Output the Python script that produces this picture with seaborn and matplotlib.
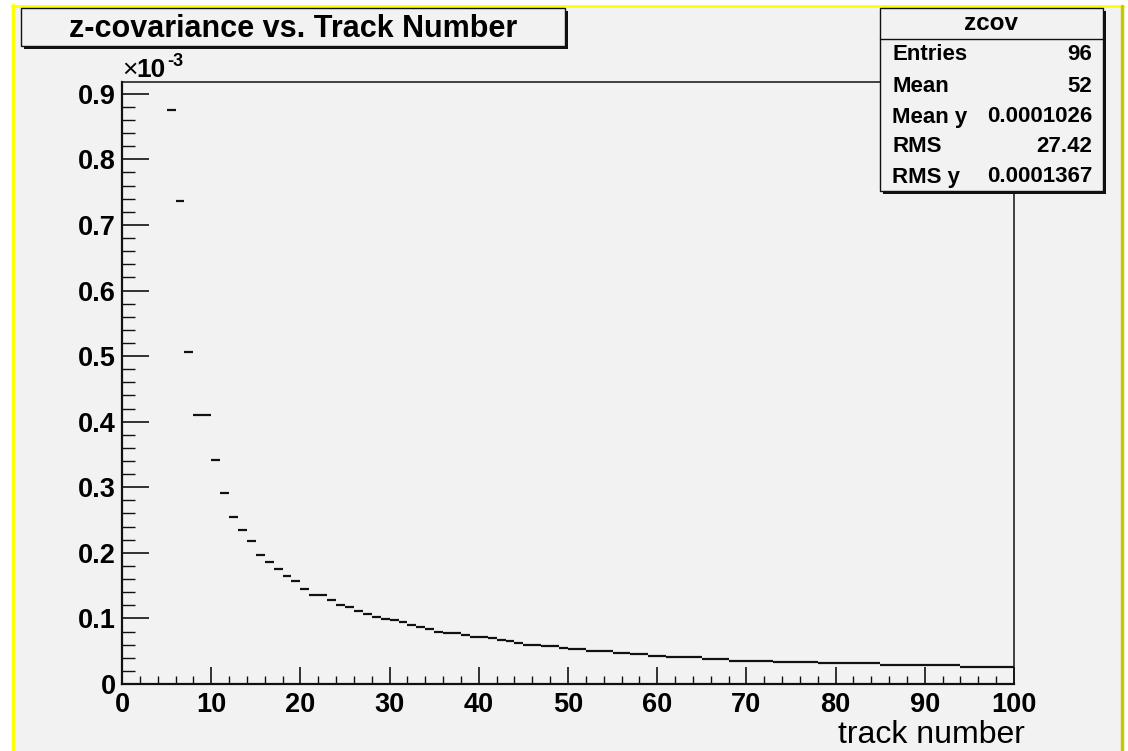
import seaborn as sns
import matplotlib.pyplot as plt
import pandas as pd
from matplotlib.patches import Rectangle
from matplotlib.lines import Line2D
from matplotlib.ticker import MultipleLocator, FuncFormatter

# bin low edges (track number), width 1
track_bin = list(range(5, 100))
# z-covariance per bin, in units of 1e-3
zcov_e3 = [
    0.875, 0.737, 0.507, 0.410, 0.410, 0.341, 0.291, 0.255, 0.235, 0.2175,
    0.196, 0.186, 0.176, 0.164, 0.1575, 0.1455, 0.135, 0.135, 0.128, 0.1205,
    0.118, 0.111, 0.106, 0.1017, 0.0996, 0.097, 0.0945, 0.0894, 0.0869, 0.0843,
    0.0798, 0.0777, 0.0777, 0.0747, 0.0722, 0.0722, 0.0696, 0.0671, 0.065, 0.0625,
    0.060, 0.060, 0.0574, 0.0574, 0.0549, 0.053, 0.053, 0.0503, 0.0503, 0.0503,
    0.0478, 0.0478, 0.0452, 0.0452, 0.0427, 0.0427, 0.0406, 0.0406, 0.0406, 0.0406,
    0.0378, 0.0378, 0.0378, 0.0356, 0.0356, 0.0356, 0.0356, 0.0356, 0.0335, 0.0335,
    0.0335, 0.0335, 0.0335, 0.0315, 0.0315, 0.0315, 0.0315, 0.0315, 0.0315, 0.0315,
    0.029, 0.029, 0.029, 0.029, 0.029, 0.029, 0.029, 0.029, 0.029, 0.0264,
    0.0264, 0.0264, 0.0264, 0.0264, 0.0264,
]

stat_names = ['Entries', 'Mean', 'Mean y', 'RMS', 'RMS y']
stat_values = ['96', '52', '0.0001026', '27.42', '0.0001367']

df = pd.DataFrame({'lo': track_bin, 'zcov': zcov_e3})
df['hi'] = df['lo'] + 1

sns.set_theme(style='ticks')
plt.rcParams['font.family'] = ['Liberation Sans', 'DejaVu Sans']
plt.rcParams['text.color'] = '#000000'
plt.rcParams['xtick.color'] = '#000000'
plt.rcParams['ytick.color'] = '#000000'
plt.rcParams['xtick.labelcolor'] = '#000000'
plt.rcParams['ytick.labelcolor'] = '#000000'

W, H = 1128, 751
BG = '#f2f2f2'
fig = plt.figure(figsize=(W / 100, H / 100), dpi=100)
fig.patch.set_facecolor('white')


def fx(x):
    return x / W


def fy(y):
    return 1 - y / H


# canvas background and yellow frame
fig.add_artist(Rectangle((fx(13), 0), fx(1122) - fx(13), fy(6), transform=fig.transFigure,
                         facecolor=BG, edgecolor='none', zorder=-10))
fig.add_artist(Line2D([fx(13), fx(13)], [0, fy(5)], color='#ffff00', lw=2.5, transform=fig.transFigure, zorder=-5))
fig.add_artist(Line2D([fx(12), fx(1123)], [fy(6), fy(6)], color='#ffff00', lw=2.0, transform=fig.transFigure, zorder=-5))
fig.add_artist(Line2D([fx(1122), fx(1122)], [0, fy(6)], color='#c8c800', lw=2.5, transform=fig.transFigure, zorder=-5))

ax = fig.add_axes([fx(122), fy(684), fx(1014) - fx(122), fy(82) - fy(684)])
ax.set_facecolor(BG)

ax.hlines(df['zcov'], df['lo'], df['hi'], color='#111111', lw=1.6)

ax.set_xlim(0, 100)
ax.set_ylim(0, 0.918)
ax.xaxis.set_major_locator(MultipleLocator(10))
ax.xaxis.set_minor_locator(MultipleLocator(2))
ax.yaxis.set_major_locator(MultipleLocator(0.1))
ax.yaxis.set_minor_locator(MultipleLocator(0.02))
ax.yaxis.set_major_formatter(FuncFormatter(lambda v, p: '0' if abs(v) < 1e-9 else '%.1f' % v))
ax.xaxis.set_major_formatter(FuncFormatter(lambda v, p: '%d' % round(v)))

for side in ['left', 'bottom']:
    ax.spines[side].set_linewidth(1.6)
for side in ['top', 'right']:
    ax.spines[side].set_linewidth(1.1)
for s in ax.spines.values():
    s.set_color('#111111')

ax.tick_params(axis='x', which='major', direction='in', length=12.2, width=1.2, pad=6,
               labelsize=19.5, top=False, colors='#111111', labelcolor='black')
ax.tick_params(axis='x', which='minor', direction='in', length=5.8, width=1.0, top=False, colors='#111111')
ax.tick_params(axis='y', which='major', direction='in', length=19.4, width=1.2, pad=4.5,
               labelsize=19.5, right=False, colors='#111111', labelcolor='black')
ax.tick_params(axis='y', which='minor', direction='in', length=9.4, width=1.0, right=False, colors='#111111')
for lab in ax.get_xticklabels() + ax.get_yticklabels():
    lab.set_fontweight('bold')
ax.set_xlabel('')
ax.set_ylabel('')

# exponent label
fig.text(fx(122), fy(77), '\u00d7', fontsize=19, va='baseline', ha='left')
fig.text(fx(136), fy(77), '10', fontsize=19, fontweight='bold', va='baseline', ha='left')
fig.text(fx(167), fy(66), '-3', fontsize=13, fontweight='bold', va='baseline', ha='left')

# title box
fig.add_artist(Rectangle((fx(24), fy(49)), fx(568) - fx(24), fy(11) - fy(49), transform=fig.transFigure,
                         facecolor='#111111', edgecolor='none', zorder=2))
fig.add_artist(Rectangle((fx(21), fy(46)), fx(565) - fx(21), fy(8) - fy(46), transform=fig.transFigure,
                         facecolor=BG, edgecolor='#111111', lw=1.0, zorder=2.1))
fig.text(fx(293), fy(29), 'z-covariance vs. Track Number', fontsize=22, fontweight='bold',
         ha='center', va='center', zorder=3)

# stats box
fig.add_artist(Rectangle((fx(883), fy(194)), fx(1106) - fx(883), fy(11) - fy(194), transform=fig.transFigure,
                         facecolor='#111111', edgecolor='none', zorder=2))
fig.add_artist(Rectangle((fx(880), fy(191)), fx(1103) - fx(880), fy(8) - fy(191), transform=fig.transFigure,
                         facecolor=BG, edgecolor='#111111', lw=1.0, zorder=2.1))
fig.add_artist(Line2D([fx(880), fx(1103)], [fy(39), fy(39)], color='#111111', lw=1.0,
                      transform=fig.transFigure, zorder=2.2))
fig.text(fx(991), fy(24), 'zcov', fontsize=17.5, fontweight='bold', ha='center', va='center', zorder=3)
row_y = [55, 86, 117, 147, 177]
for name, val, yy in zip(stat_names, stat_values, row_y):
    fig.text(fx(892), fy(yy), name, fontsize=16, fontweight='bold', ha='left', va='center', zorder=3)
    fig.text(fx(1092), fy(yy), val, fontsize=16, fontweight='bold', ha='right', va='center', zorder=3)

fig.text(fx(1025), fy(743), 'track number', fontsize=23, ha='right', va='baseline')

fig.savefig('out.png', dpi=100, facecolor=fig.get_facecolor())
